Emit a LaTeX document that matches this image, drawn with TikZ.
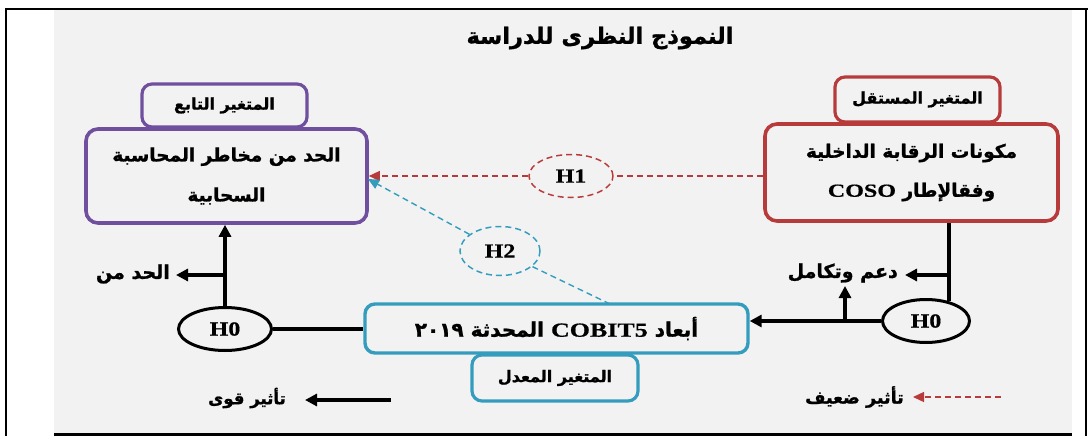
\documentclass[tikz,border=0pt]{standalone}
\usepackage{fontspec}
\usepackage{graphicx}
\usetikzlibrary{arrows.meta,shapes.geometric,calc}
\TeXXeTstate=1
\newfontfamily\arfont[Script=Arabic, BoldFeatures={FakeBold=1.2}]{DejaVu Sans}
\newfontfamily\tnr[BoldFeatures={FakeBold=0.6}]{Liberation Serif}
\newcommand{\AR}[1]{{\arfont\bfseries\beginR #1\endR}}
\newcommand{\LT}[1]{\beginL\scalebox{1.3}[1]{\tnr\bfseries #1}\endL{}}
\newcommand{\HT}[1]{\scalebox{1.2}[1]{#1}}
\definecolor{bg}{HTML}{F2F2F2}
\definecolor{purp}{HTML}{6F4F9E}
\definecolor{redc}{HTML}{B83B3B}
\definecolor{cyanc}{HTML}{349DBE}
\tikzset{
  bigbox/.style={draw, line width=3.6pt, rounded corners=12pt, inner sep=0pt, align=center, fill=bg},
  smallbox/.style={draw, line width=3.2pt, rounded corners=10pt, inner sep=0pt, fill=bg},
  hzero/.style={draw, ellipse, line width=3pt, inner sep=0pt, fill=bg},
  hdash/.style={draw, ellipse, line width=1.5pt, inner sep=0pt, dash pattern=on 6pt off 4pt},
  strong/.style={line width=3.8pt, -{Triangle[length=12pt,width=12pt]}},
  plain/.style={line width=3.8pt},
  weak/.style={line width=1.4pt, dash pattern=on 6pt off 4pt, -{Triangle[length=11pt,width=10pt]}},
  lbl/.style={inner sep=0pt, font=\fontsize{19}{21}\selectfont},
  hfont/.style={font=\tnr\bfseries\fontsize{20}{22}\selectfont}
}
\begin{document}
\begin{tikzpicture}[x=1pt,y=-1pt]
\useasboundingbox (0,0) rectangle (1089,436);
\fill[white] (0,0) rectangle (1089,436);
\fill[bg] (54,10) rectangle (1072,433);
\draw[line width=2pt] (5,9) -- (1088,9);
\draw[line width=2.5pt] (6,8) -- (6,436);
\draw[line width=2.5pt] (1086,8) -- (1086,436);
\draw[line width=3.5pt] (54,434.5) -- (1072,434.5);

\node[inner sep=0pt, font=\fontsize{22.5}{24}\selectfont] (title) at (600,38) {\AR{النموذج النظرى للدراسة}};

% dependent
\node[smallbox, draw=purp, minimum width=165pt, minimum height=43pt, font=\fontsize{16}{18}\selectfont] (depsmall) at (224.5,105.5) {\AR{المتغير التابع}};
\node[bigbox, draw=purp, minimum width=281pt, minimum height=94pt, font=\fontsize{18.5}{40}\selectfont] (depbig) at (226.5,176) {\AR{الحد من مخاطر المحاسبة}\\\AR{السحابية}};

% independent
\node[smallbox, draw=redc, minimum width=165pt, minimum height=45pt, font=\fontsize{16}{18}\selectfont] (indsmall) at (917.5,99.5) {\AR{المتغير المستقل}};
\node[bigbox, draw=redc, minimum width=293pt, minimum height=97pt, font=\fontsize{18.5}{39}\selectfont] (indbig) at (911.5,172.5) {\AR{مكونات الرقابة الداخلية}\\\AR{وفقالإطار \LT{COSO}}};

% moderator
\node[bigbox, draw=cyanc, line width=3.4pt, rounded corners=10pt, minimum width=383pt, minimum height=49pt, font=\fontsize{20}{22}\selectfont] (cobit) at (556.5,328.5) {\AR{أبعاد \LT{COBIT5} المحدثة \beginL ٢٠١٩\endL}};
\node[smallbox, draw=cyanc, minimum width=166pt, minimum height=46pt, font=\fontsize{16}{18}\selectfont] (mod) at (555,378) {\AR{المتغير المعدل}};

% hypotheses
\node[hdash, draw=redc, minimum width=84pt, minimum height=43pt, hfont] (H1) at (571,176) {\HT{H1}};
\node[hdash, draw=cyanc, minimum width=80pt, minimum height=49pt, hfont] (H2) at (500,251) {\HT{H2}};
\node[hzero, minimum width=93pt, minimum height=43pt, hfont] (H0L) at (225,329) {\HT{H0}};
\node[hzero, minimum width=87pt, minimum height=43pt, hfont] (H0R) at (926,321) {\HT{H0}};

% H1 connector
\draw[redc, line width=1.4pt, dash pattern=on 6pt off 4pt] (indbig.west |- H1) -- (H1);
\draw[weak, redc] (H1) -- (depbig.east |- H1);
% H2 connector
\coordinate (cobtop) at (610,304);
\coordinate (h2tip) at (368,179);
\draw[cyanc, line width=1.4pt, dash pattern=on 6pt off 4pt] (cobtop) -- (H2);
\draw[weak, cyanc] (H2) -- (h2tip);

% left H0
\draw[strong] (H0L.north) -- (H0L.north |- depbig.south);
\coordinate (lbr) at (225,275);
\coordinate (lbrend) at (176,275);
\draw[strong] (lbr) -- (lbrend);
\node[lbl, anchor=east] (lblL) at (170,274) {\AR{الحد من}};
\draw[plain] (H0L) -- (H0L -| cobit.west);

% right H0
\draw[plain] (H0R.41) -- (H0R.41 |- indbig.south);
\coordinate (rbr) at (948,275);
\coordinate (rbrend) at (905,275);
\draw[strong] (rbr) -- (rbrend);
\node[lbl, anchor=east] (lblR) at (898,273) {\AR{دعم وتكامل}};
\draw[strong] (H0R) -- (H0R -| cobit.east);
\coordinate (upbase) at (845,321);
\coordinate (uptop) at (845,286);
\draw[strong] (upbase) -- (uptop);

% legend
\node[lbl, anchor=east, font=\fontsize{16.5}{18}\selectfont] (legS) at (286,398) {\AR{تأثير قوى}};
\coordinate (legSa) at (391,400);
\coordinate (legSb) at (305,400);
\draw[strong] (legSa) -- (legSb);
\node[lbl, anchor=east, font=\fontsize{17.5}{19}\selectfont] (legW) at (904,397) {\AR{تأثير ضعيف}};
\coordinate (legWa) at (1001,397);
\coordinate (legWb) at (913,397);
\draw[weak, redc] (legWa) -- (legWb);
\end{tikzpicture}
\end{document}
